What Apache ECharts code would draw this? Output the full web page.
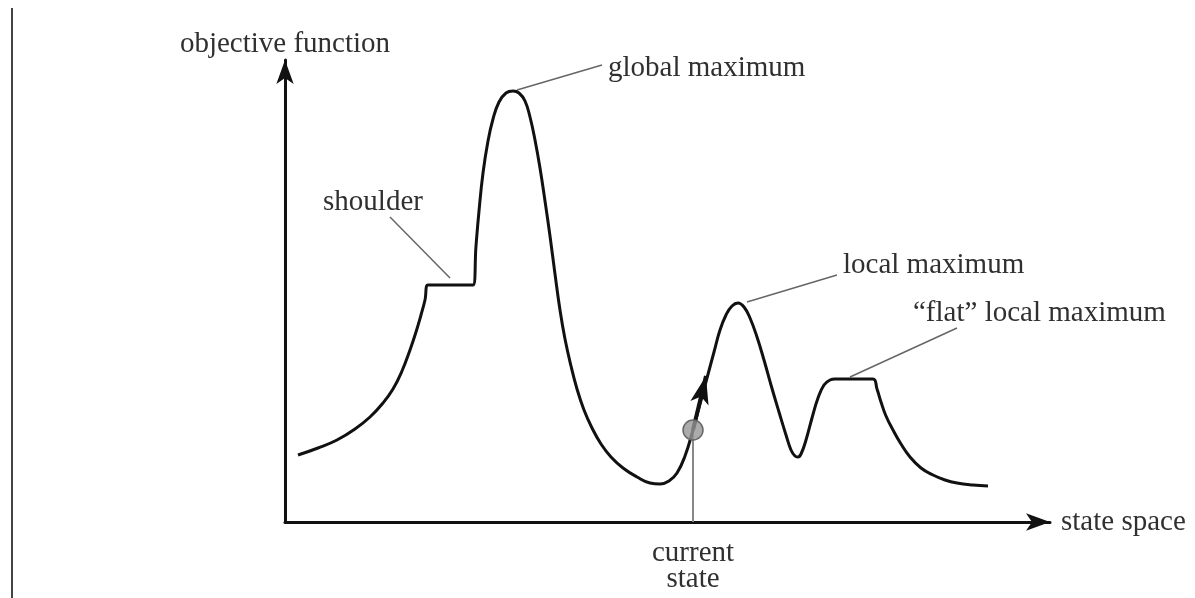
<!DOCTYPE html>
<html>
<head>
<meta charset="utf-8">
<script src="https://cdn.jsdelivr.net/npm/echarts@6/dist/echarts.min.js"></script>
<style>html,body{margin:0;padding:0;background:#fff}#c{width:1195px;height:598px}</style>
</head>
<body>
<div id="c"></div>
<script>
// Landscape curve: [state, objective]
var landscape = [
  [13,67],[33,74],[52,82],[70,93],[85,105],[98,119],[108,133],[117,151],[125,172],[131,190],
  [136,207],[140,222],[143,237],[166,237],[188,237],
  [191,276],[194,311],[198,349],[203,381],[208,403],[214,420],[221,429],[228,431],
  [234,429],[240,421],[245,405],[250,382],[255,354],[260,321],[265,286],[270,248],[275,212],
  [280,183],[286,156],[292,133],[299,112],[307,94],[316,78],[326,65],[338,54],[352,45],
  [365,39],[375,38],[384,41],[392,49],[400,66],[408,92],
  [415,118],[422,144],[429,170],[435,192],[441,207],[447,216],[453,219],[459,215],[465,204],
  [472,185],[479,162],[486,137],[494,110],[501,87],[506,72],[510,66],[513,65],[516,68],
  [521,82],[527,104],[533,124],[539,137],[545,142],[550,143],[568,143],[588,143],
  [592,133],[596,120],[601,106],[608,92],[616,78],[625,65],[636,54],[648,47],[660,42],
  [672,39],[688,37],[703,36]
];
// Current state and its move direction
var currentState = [408, 92];
var moveTip = [421, 146];
// Annotations: name, text anchor, leader start (near text), leader end (on curve)
var annotationNames = ['shoulder', 'global maximum', 'local maximum', '\u201cflat\u201d local maximum'];
var annotationText = [[88,320],[323,454],[558,257],[628,209]];
var annotationAlign = ['center','left','left','left'];
var leaderFrom = [[105,305],[317,457],[552,247],[672,194]];
var leaderTo = [[165,244],[232,432],[462,220],[565,145]];
var axisNames = ['state space', 'objective function'];
var currentLabel = 'current\nstate';

var FONT = '"Liberation Serif","DejaVu Serif",serif';
var TXT = '#303030';

var series = [];
series.push({
  type: 'line', data: landscape, smooth: 0.45, smoothMonotone: 'none', showSymbol: false, symbol: 'none',
  lineStyle: {color: '#111', width: 3}, z: 5, silent: true
});
leaderFrom.forEach(function (p, i) {
  series.push({
    type: 'line', data: [p, leaderTo[i]], showSymbol: false, symbol: 'none',
    lineStyle: {color: '#666', width: 1.5}, z: 3, silent: true
  });
});
series.push({
  type: 'scatter', symbolSize: 0, clip: false, silent: true,
  itemStyle: {color: '#fff', opacity: 1},
  data: annotationText.map(function (p, i) {
    return {value: p, label: {show: true, position: 'inside', formatter: annotationNames[i],
      align: annotationAlign[i], verticalAlign: 'middle', color: TXT, opacity: 1,
      textBorderWidth: 0, fontFamily: FONT, fontSize: 29}};
  })
});
// vertical line from current state to x-axis + move arrow
series.push({
  type: 'line', data: [[currentState[0], 0], currentState], showSymbol: false, symbol: 'none',
  lineStyle: {color: '#888', width: 2}, z: 4, silent: true,
  markLine: {
    silent: true, symbol: ['none', 'arrow'], symbolSize: [14, 28],
    lineStyle: {color: '#111', width: 4, type: 'solid'}, label: {show: false},
    data: [[{coord: currentState}, {coord: moveTip}]]
  }
});
series.push({
  type: 'scatter', clip: false, silent: true, z: 6,
  data: [currentState], symbol: 'circle', symbolSize: 20,
  itemStyle: {color: 'rgba(150,150,150,0.8)', borderColor: '#666', borderWidth: 1.5, opacity: 1}
});
series.push({
  type: 'scatter', clip: false, silent: true, symbolSize: 0,
  itemStyle: {color: '#fff', opacity: 1},
  data: [{value: [currentState[0], 0], label: {show: true, position: 'bottom', distance: 18,
    formatter: currentLabel, fontFamily: FONT, fontSize: 29, lineHeight: 26, color: TXT,
    opacity: 1, textBorderWidth: 0, align: 'center'}}]
});

var chart = echarts.init(document.getElementById('c'), null, {renderer: 'canvas'});
chart.setOption({
  animation: false,
  backgroundColor: '#fff',
  grid: {left: 285, top: 60, right: 145, bottom: 76, containLabel: false},
  xAxis: {
    type: 'value', min: 0, max: 765, name: axisNames[0], nameLocation: 'end', nameGap: 11,
    nameTextStyle: {fontFamily: FONT, fontSize: 29, color: TXT, align: 'left', verticalAlign: 'middle',
      padding: [2, 0, 0, 0]},
    axisLine: {show: true, onZero: false, symbol: ['none', 'arrow'], symbolSize: [13, 24],
      lineStyle: {color: '#111', width: 3}},
    axisTick: {show: false}, axisLabel: {show: false}, splitLine: {show: false}
  },
  yAxis: {
    type: 'value', min: 0, max: 462, name: axisNames[1], nameLocation: 'end', nameGap: 1,
    nameTextStyle: {fontFamily: FONT, fontSize: 29, color: TXT, align: 'center', verticalAlign: 'bottom'},
    axisLine: {show: true, onZero: false, symbol: ['none', 'arrow'], symbolSize: [13, 24],
      lineStyle: {color: '#111', width: 3}},
    axisTick: {show: false}, axisLabel: {show: false}, splitLine: {show: false}
  },
  graphic: [{type: 'line', shape: {x1: 12, y1: 8, x2: 12, y2: 598}, style: {stroke: '#444', lineWidth: 2}}],
  series: series
});
</script>
</body>
</html>
